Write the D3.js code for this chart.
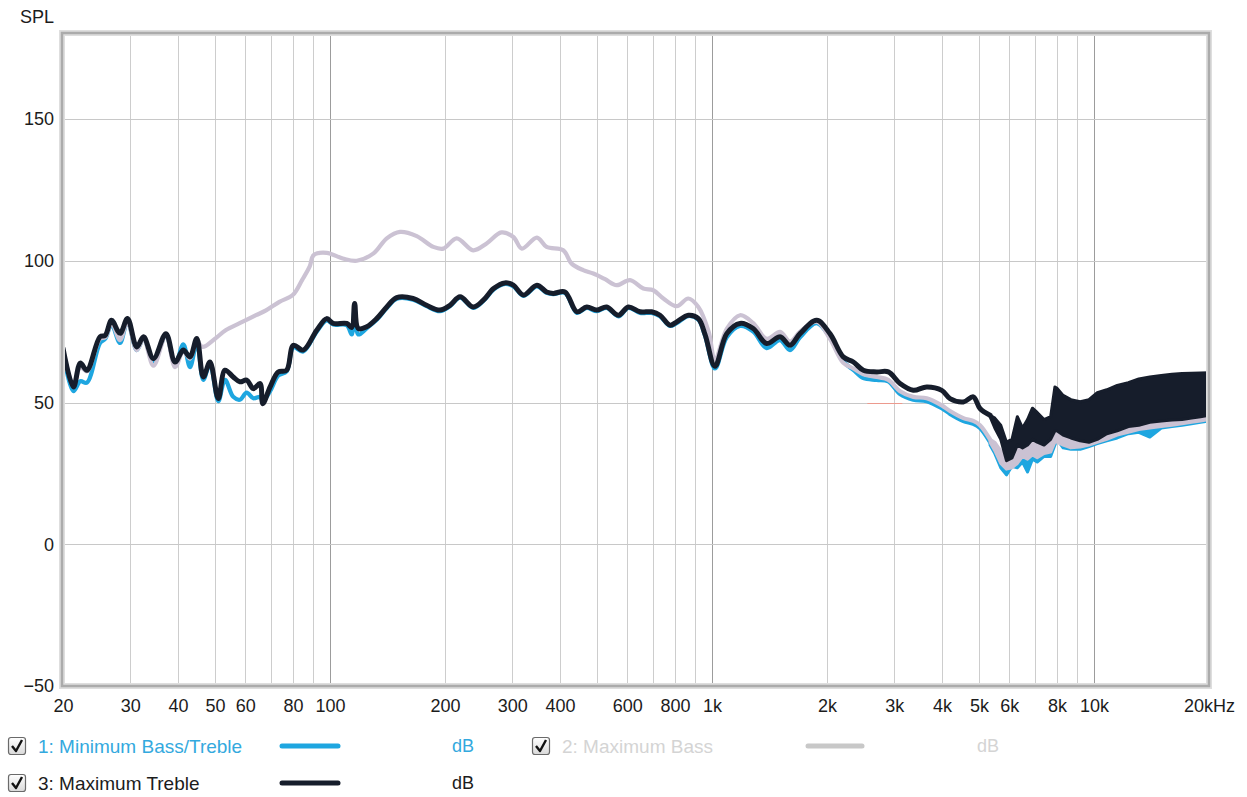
<!DOCTYPE html>
<html><head><meta charset="utf-8">
<script src="https://cdn.jsdelivr.net/npm/d3@7"></script>
<style>
body{margin:0;background:#fff;}
svg{display:block;font-family:"Liberation Sans",Arial,sans-serif;}
</style></head><body>
<svg id="chart" width="1247" height="797"></svg>
<script>
// ---------- measurement data: [frequency Hz, SPL dB] ----------
const minBassTreble = [[20,68],[21.3,54],[22.2,57.5],[23.1,57],[25,71],[25.8,72.5],[26.8,77.5],[28.2,71],[29.5,78.5],[31.2,68.5],[32.5,72.5],[34.5,64.5],[37.2,73.5],[39.3,63.5],[41.3,70.5],[43,62.5],[44.8,71],[46.6,58],[48.5,63.5],[51,50.5],[53.1,58],[55.8,52],[58.1,51],[60.5,53.5],[63,51.5],[65.6,52],[66.7,50.5],[69.7,54],[73.2,59.5],[77,61],[80.2,69.5],[85.1,68],[92.3,75],[98,79],[102,77.5],[110.6,77.3],[114,74],[116,83],[118.6,74],[124.7,76.2],[132.5,79.2],[140.8,83.3],[149.5,86.6],[165,86.3],[179,84],[194,82.2],[206,84],[219,87],[237,83.4],[252,85.8],[268,89.8],[287,91.8],[302,91],[321,87.6],[348,91],[369,88.7],[384,88.2],[412,88.7],[443,81.6],[470,83.4],[499,82.2],[530,83.4],[569,80.4],[604,83.4],[648,81.6],[695,81.6],[731,80.4],[776,77],[808,78],[867,80.5],[921,79.2],[959,73.5],[1018,62],[1093,73],[1184,77],[1282,75],[1390,69.2],[1507,72],[1600,68.5],[1700,73],[1879,78],[2036,73],[2206,64.5],[2344,61.5],[2490,58.6],[2698,58],[2894,57.5],[3106,53],[3364,51],[3648,50.5],[3994,48],[4198,46],[4550,43.5],[4830,42.5],[5030,41],[5344,36]];

const maxBass = [[20,68.5],[21.3,56],[22.2,62.5],[23.1,61],[25,72.5],[25.8,73],[26.8,78],[28.2,72],[29.5,78.5],[31.2,68.5],[32.5,72.5],[34.5,63],[37.2,73.5],[39.3,62.5],[41.3,68],[43,65.5],[44.8,71.5],[46.4,69.6],[50,72.5],[53.3,75.5],[58,78],[64,80.8],[68,82.5],[73.7,85.5],[80,88],[84.5,93.2],[88.5,98],[90.6,102],[98,102.8],[108,100.8],[117.5,100],[130,102.6],[140.8,107.9],[152.5,110.2],[168.7,108.7],[186.4,104.9],[198,104.3],[214.6,107.9],[237,103.7],[257,106.1],[281,110],[302,108.4],[318,104.3],[348,108.2],[369,104.9],[408,103.7],[429,99],[460,96.7],[489,95.5],[525,93.5],[563,91.4],[610,93.2],[661,90.2],[702,89.6],[746,86.7],[808,84],[867,86.7],[921,83.7],[980,75],[1018,65],[1093,76],[1184,80.8],[1282,78],[1390,72.5],[1507,74.9],[1600,71.5],[1700,75],[1879,78.5],[2036,72.5],[2206,64],[2344,62],[2490,60],[2698,59],[2894,58],[3106,54],[3364,52],[3648,51.5],[3994,49],[4198,47],[4550,44.5],[4830,43.5],[5030,42],[5344,37]];

const maxTreble = [[20,69.2],[21.3,55.5],[22.2,63.9],[23.1,61.4],[25,73.2],[25.8,73.7],[26.8,79],[28.2,74.4],[29.5,79.6],[31.2,69.6],[32.5,73.2],[34.5,65.5],[37.2,74.3],[39.3,64.3],[41.3,68.5],[43,66.1],[44.8,72.6],[46.6,59],[48.5,64.3],[51,51.4],[53.1,61.4],[55.8,59],[58.1,57.3],[60.5,57.9],[63,54.9],[65.6,56.7],[66.7,49.6],[69.7,55.5],[73.2,60.8],[77,61.4],[80.2,70.2],[85.1,68.5],[92.3,75.5],[98,79.6],[102,77.9],[110.6,77.9],[114,76.5],[116,84.9],[118.6,76.1],[124.7,76.7],[132.5,79.6],[140.8,83.7],[149.5,87],[165,86.7],[179,84.3],[194,82.6],[206,84.3],[219,87.3],[237,83.7],[252,86.1],[268,90.2],[287,92.2],[302,91.4],[321,87.9],[348,91.4],[369,89],[384,88.5],[412,89],[443,82],[470,83.7],[499,82.6],[530,83.7],[569,80.8],[604,83.7],[648,82],[695,82],[731,80.8],[776,77.3],[808,78.4],[867,80.8],[921,79.6],[959,74],[1018,62.8],[1093,74.3],[1184,77.9],[1282,76.1],[1390,70.8],[1507,73.2],[1600,70.2],[1700,74.3],[1879,79],[2036,74.3],[2206,66.1],[2344,64.3],[2490,61.4],[2698,60.8],[2894,60.8],[3106,56.7],[3364,54.3],[3648,55.5],[3994,54.3],[4198,51.4],[4550,50.2],[4830,52],[5030,47.9],[5344,45.5]];

// Above ~5 kHz the traces ripple too densely to follow; they are kept as
// upper / lower envelopes on a shared frequency grid.
const hfFreq      = [5344,5500,5700,5900,6100,6300,6500,6700,6900,7100,7400,7700,7900,8000,8300,8700,9200,9700,10200,10800,11500,12300,13100,14000,15000,16000,17000,18000,19000,20000];
const minBassHi   = [36,34,31,29,30,34,33,34,37,36,36,37,44,44,42,41,41,42,44,46,48,49,50,51,52,53,54,55,55.5,56];
const minBassLo   = [35,32,27,24.5,27.5,27,29,25.5,30,29,31,31,35,37,34,33.5,33.5,34.5,35.5,36.5,37.5,39,39.5,37.8,41,41.5,42,42.5,43,43.5];
const maxBassHi   = [37,36,33,31,33,38,36,38,41,40,39,40,48,46,44,43,43,44,46,48,50,51,52,53,54,55,55.5,56,56.5,57];
const maxBassLo   = [36,33,28.5,26.5,27,28.5,31,30,31.5,30.5,32,32.5,36,36,35,34,34.3,35,36,37,38.5,39.5,40.5,41,41.5,42,42.5,43,43.5,44];
const maxTrebleHi = [45.5,44.5,42,36,37,45,41,44,48,46.5,44,45,55.5,55,52.5,51,50.3,51,53.5,54.5,56,57,58.3,59,59.5,60,60.2,60.3,60.4,60.5];
const maxTrebleLo = [45,41,37,29.5,30.5,35,34,35,37,36,35,37,40,40,38.5,37.5,36.5,36,37,39,40,41.5,42,43,43.5,43.8,44,44.5,45,45.5];

// reference level marker on the 50 dB line
const refMarker = [[2550,50],[3150,50]];

// ---------- axes ----------
const xTickValues = [20,30,40,50,60,80,100,200,300,400,600,800,1000,2000,3000,4000,5000,6000,8000,10000,20000];
const xTickLabels = ["20","30","40","50","60","80","100","200","300","400","600","800","1k","2k","3k","4k","5k","6k","8k","10k","20kHz"];
const gridFreqs   = [30,40,50,60,70,80,90,100,200,300,400,500,600,700,800,900,1000,2000,3000,4000,5000,6000,7000,8000,9000,10000];
const decadeFreqs = [100,1000,10000];
const yTickValues = [-50,0,50,100,150];
const yGridValues = [0,50,100,150];

const seriesNames  = ["1: Minimum Bass/Treble","2: Maximum Bass","3: Maximum Treble"];
const seriesColors = ["#1ea6e0","#cbc2d3","#161d2b"];

// ---------- drawing ----------
const svg = d3.select("#chart");
const L = 63, R = 1209, T = 34, B = 686;
const x = d3.scaleLog().domain([20,20000]).range([L,R]);
const y = d3.scaleLinear().domain([-50,180]).range([B,T]);

svg.append("rect").attr("width",1247).attr("height",797).attr("fill","#fff");
svg.append("rect").attr("x",L).attr("y",T).attr("width",R-L).attr("height",B-T).attr("fill","#fff");

const grid = svg.append("g");
grid.selectAll("line.v").data(gridFreqs).join("line")
  .attr("x1",d=>Math.round(x(d))+0.5).attr("x2",d=>Math.round(x(d))+0.5)
  .attr("y1",T).attr("y2",B)
  .attr("stroke",d=>decadeFreqs.includes(d)?"#9c9c9c":"#cdcdcd").attr("stroke-width",1);
grid.selectAll("line.h").data(yGridValues).join("line")
  .attr("x1",L).attr("x2",R)
  .attr("y1",d=>Math.round(y(d))+0.5).attr("y2",d=>Math.round(y(d))+0.5)
  .attr("stroke","#c8c8c8").attr("stroke-width",1);
svg.append("path").datum(refMarker)
  .attr("d",d3.line().x(d=>x(d[0])).y(d=>Math.round(y(d[1]))+0.5))
  .attr("stroke","#ec9a8e").attr("stroke-width",1.2).attr("fill","none");

svg.append("defs").append("clipPath").attr("id","plotClip")
  .append("rect").attr("x",L).attr("y",T).attr("width",R-L).attr("height",B-T);

const plot = svg.append("g").attr("clip-path","url(#plotClip)");
const line = d3.line().x(d=>x(d[0])).y(d=>y(d[1])).curve(d3.curveCatmullRom.alpha(0.5));
const band = d3.area().x(d=>x(d.f)).y0(d=>y(d.lo)).y1(d=>y(d.hi));

const traces = [
  {pts:minBassTreble, hi:minBassHi,   lo:minBassLo,   color:seriesColors[0], w:4.2},
  {pts:maxBass,       hi:maxBassHi,   lo:maxBassLo,   color:seriesColors[1], w:4.2},
  {pts:maxTreble,     hi:maxTrebleHi, lo:maxTrebleLo, color:seriesColors[2], w:5}
];
traces.forEach(t=>{
  const env = hfFreq.map((f,i)=>({f, hi:t.hi[i], lo:t.lo[i]}));
  plot.append("path").datum(env).attr("d",band)
    .attr("fill",t.color).attr("stroke",t.color).attr("stroke-width",3)
    .attr("stroke-linejoin","round");
  plot.append("path").datum(t.pts).attr("d",line)
    .attr("fill","none").attr("stroke",t.color).attr("stroke-width",t.w)
    .attr("stroke-linejoin","round").attr("stroke-linecap","round");
});

// frame
svg.append("rect").attr("x",L-1).attr("y",T-1).attr("width",R-L+1).attr("height",B-T+1)
  .attr("fill","none").attr("stroke","#dedede").attr("stroke-width",6);
svg.append("rect").attr("x",L-1).attr("y",T-1).attr("width",R-L+1).attr("height",B-T+1)
  .attr("fill","none").attr("stroke","#ababab").attr("stroke-width",2.5);

// axis labels
const xAxis = svg.append("g").attr("transform",`translate(0,${B})`)
  .call(d3.axisBottom(x).tickValues(xTickValues).tickFormat((d,i)=>xTickLabels[i]).tickSize(0).tickPadding(13));
const yAxis = svg.append("g").attr("transform",`translate(${L},0)`)
  .call(d3.axisLeft(y).tickValues(yTickValues).tickSize(0).tickPadding(9));
[xAxis,yAxis].forEach(a=>{
  a.select(".domain").remove();
  a.selectAll("text").attr("font-size",18).attr("fill","#1c1c1c")
    .attr("font-family","'Liberation Sans',Arial,sans-serif");
});
svg.append("text").attr("x",20).attr("y",23).attr("font-size",18).attr("fill","#1c1c1c").text("SPL");

// legend
const legendRows = [
  {i:0, bx:8,   ty:746, tx:38,  lx1:282, lx2:338, dbx:452, text:"#33a9de", lineColor:"#1ea6e0"},
  {i:1, bx:532, ty:746, tx:562, lx1:808, lx2:862, dbx:977, text:"#d4d4d4", lineColor:"#c8c8c8"},
  {i:2, bx:8,   ty:783, tx:38,  lx1:282, lx2:338, dbx:452, text:"#1c1c1c", lineColor:"#161d2b"}
];
const grad = svg.select("defs").append("linearGradient").attr("id","boxGrad")
  .attr("x1",0).attr("y1",0).attr("x2",0).attr("y2",1);
grad.append("stop").attr("offset",0).attr("stop-color","#ffffff");
grad.append("stop").attr("offset",1).attr("stop-color","#d9d9d9");

const lg = svg.append("g");
legendRows.forEach(r=>{
  const g = lg.append("g");
  const by = r.ty - 9;
  g.append("rect").attr("x",r.bx+0.5).attr("y",by+0.5).attr("width",17).attr("height",17).attr("rx",2.5)
    .attr("fill","url(#boxGrad)").attr("stroke","#6a6a6a").attr("stroke-width",1.2);
  g.append("path").attr("d",`M${r.bx+4},${by+9} L${r.bx+8},${by+14} L${r.bx+14},${by+3}`)
    .attr("fill","none").attr("stroke","#111").attr("stroke-width",2.4).attr("stroke-linejoin","round");
  g.append("text").attr("x",r.tx).attr("y",r.ty).attr("dy","0.35em").attr("font-size",19)
    .attr("fill",r.text).text(seriesNames[r.i]);
  g.append("line").attr("x1",r.lx1).attr("x2",r.lx2).attr("y1",r.ty).attr("y2",r.ty)
    .attr("stroke",r.lineColor).attr("stroke-width",5).attr("stroke-linecap","round");
  g.append("text").attr("x",r.dbx).attr("y",r.ty).attr("dy","0.35em").attr("font-size",18)
    .attr("fill",r.text).text("dB");
});
</script>
</body></html>
